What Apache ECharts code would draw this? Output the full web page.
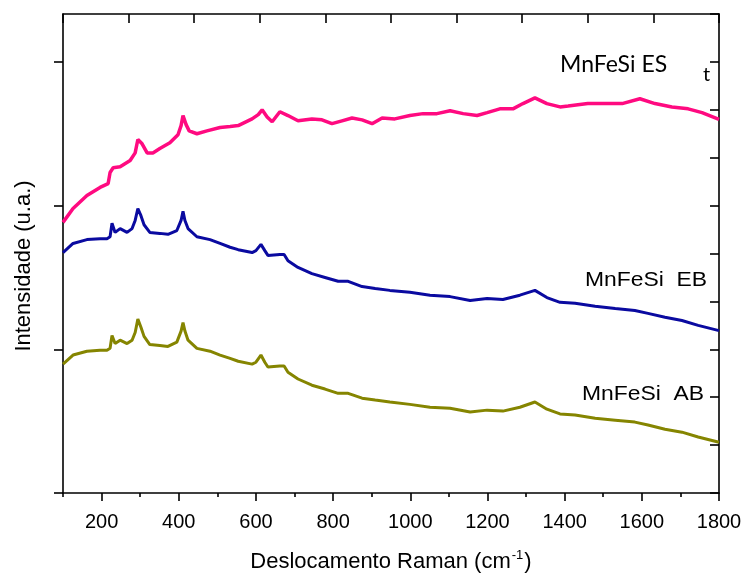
<!DOCTYPE html>
<html>
<head>
<meta charset="utf-8">
<script src="https://cdn.jsdelivr.net/npm/echarts@6/dist/echarts.min.js"></script>
<style>html,body{margin:0;padding:0;background:#fff;}#c{width:747px;height:573px;}</style>
</head>
<body>
<div id="c"></div>
<script>
// Raman shift (cm-1) and intensity (arb. units)
var esX = [100,126,162,196,217,222,230,248,274,287,294,305,318,333,351,377,398,406,411,419,427,447,473,507,533,554,590,606,616,629,642,662,683,709,745,771,797,823,849,875,901,927,960,999,1033,1069,1103,1137,1173,1199,1232,1266,1292,1323,1354,1388,1409,1460,1505,1549,1595,1634,1678,1720,1756,1800];
var esY = [5.65,5.94,6.21,6.38,6.46,6.69,6.79,6.81,6.94,7.10,7.38,7.29,7.10,7.10,7.19,7.31,7.48,7.67,7.88,7.69,7.56,7.50,7.56,7.63,7.65,7.67,7.81,7.90,8.00,7.85,7.75,7.96,7.88,7.77,7.81,7.79,7.71,7.77,7.83,7.79,7.71,7.83,7.81,7.88,7.92,7.92,7.98,7.92,7.88,7.94,8.02,8.02,8.13,8.25,8.13,8.06,8.08,8.13,8.13,8.13,8.23,8.13,8.06,8.02,7.94,7.80];

var ebX = [100,126,162,196,214,222,227,235,248,266,279,287,294,302,310,325,351,372,395,406,411,416,424,447,481,507,533,554,590,600,613,623,631,662,673,683,709,745,779,813,839,875,909,947,999,1051,1103,1155,1199,1240,1284,1323,1354,1388,1427,1479,1531,1582,1616,1660,1704,1746,1800];
var ebY = [5.02,5.21,5.29,5.31,5.31,5.35,5.63,5.44,5.52,5.44,5.52,5.69,5.94,5.79,5.60,5.44,5.42,5.40,5.48,5.69,5.88,5.69,5.52,5.35,5.29,5.21,5.13,5.08,5.02,5.06,5.19,5.06,4.96,4.98,4.98,4.85,4.71,4.58,4.50,4.42,4.42,4.31,4.27,4.23,4.19,4.13,4.10,4.02,4.06,4.04,4.13,4.23,4.08,3.98,3.96,3.90,3.85,3.81,3.75,3.67,3.60,3.50,3.39];
var abY = [2.69,2.88,2.96,2.98,2.98,3.02,3.29,3.12,3.19,3.12,3.19,3.35,3.63,3.46,3.27,3.10,3.08,3.06,3.15,3.38,3.56,3.38,3.19,3.02,2.96,2.88,2.81,2.75,2.69,2.73,2.88,2.73,2.63,2.65,2.65,2.52,2.38,2.25,2.17,2.08,2.08,1.98,1.94,1.90,1.85,1.79,1.77,1.69,1.73,1.71,1.79,1.90,1.75,1.65,1.63,1.56,1.52,1.48,1.42,1.33,1.27,1.17,1.06];

var xLabels = [200,400,600,800,1000,1200,1400,1600,1800];
var xMinorTicks = [100,300,500,700,900,1100,1300,1500,1700];
var yLeftTicks = [0,3,6,9];
var seriesNames = ['MnFeSi ES','MnFeSi  EB','MnFeSi  AB'];
var xTitle = 'Deslocamento Raman (cm';
var yTitle = 'Intensidade (u.a.)';

function pairs(xs, ys){ return xs.map(function(x,i){ return [x, ys[i]]; }); }

var chart = echarts.init(document.getElementById('c'), null, {renderer:'canvas'});
var axisLine = {show:true, lineStyle:{color:'#000', width:1.6}};
var font = 'Liberation Sans, Arial, sans-serif';

chart.setOption({
  animation:false,
  backgroundColor:'#fff',
  grid:{left:63, right:28, top:14, bottom:80, containLabel:false, outerBoundsMode:'none'},
  xAxis:[
    {type:'value', position:'bottom', min:100, max:1800,
     axisLine:axisLine, splitLine:{show:false},
     axisTick:{show:true, inside:false, length:8, customValues:xLabels, lineStyle:{color:'#000', width:1.6}},
     axisLabel:{customValues:xLabels, fontSize:20, fontFamily:font, color:'#000', margin:19,
                formatter:function(v){ return String(v); }},
     name:'{a|'+xTitle+'}{s|-1}{a|)}', nameLocation:'middle', nameGap:56,
     nameTextStyle:{rich:{a:{fontSize:22, fontFamily:font, color:'#000', lineHeight:26},
                          s:{fontSize:13, fontFamily:font, color:'#000', verticalAlign:'top', lineHeight:26, padding:[0,1,12,1]}}}},
    {type:'value', position:'bottom', min:100, max:1800,
     axisLine:{show:false}, splitLine:{show:false}, axisLabel:{show:false},
     axisTick:{show:true, inside:false, length:4, customValues:xMinorTicks, lineStyle:{color:'#000', width:1.6}}},
    {type:'value', position:'top', min:0, max:10, interval:1,
     axisLine:axisLine, splitLine:{show:false}, axisLabel:{show:false},
     axisTick:{show:true, inside:true, length:9, lineStyle:{color:'#000', width:1.6}}}
  ],
  yAxis:[
    {type:'value', position:'left', min:0, max:10,
     axisLine:axisLine, splitLine:{show:false}, axisLabel:{show:false},
     axisTick:{show:true, inside:false, length:9, customValues:yLeftTicks, lineStyle:{color:'#000', width:1.6}}},
    {type:'value', position:'right', min:0, max:10, interval:1,
     axisLine:axisLine, splitLine:{show:false}, axisLabel:{show:false},
     axisTick:{show:true, inside:true, length:9, lineStyle:{color:'#000', width:1.6}}}
  ],
  series:[
    {name:seriesNames[0], type:'line', xAxisIndex:0, yAxisIndex:0, data:pairs(esX, esY), showSymbol:false,
     lineStyle:{color:'#FF0A80', width:3.5}, z:3},
    {name:seriesNames[1], type:'line', xAxisIndex:0, yAxisIndex:0, data:pairs(ebX, ebY), showSymbol:false,
     lineStyle:{color:'#0A0AA0', width:3}, z:3},
    {name:seriesNames[2], type:'line', xAxisIndex:0, yAxisIndex:0, data:pairs(ebX, abY), showSymbol:false,
     lineStyle:{color:'#858500', width:3}, z:3}
  ],
  graphic:[
    {type:'text', x:24, y:266, rotation:Math.PI/2,
     style:{text:yTitle, font:'22px Liberation Sans, Arial, sans-serif', fill:'#000', align:'center', verticalAlign:'middle'}},
    {type:'text', x:560, y:65,
     style:{text:seriesNames[0], font:'23px Lato, sans-serif', fill:'#000', align:'left', verticalAlign:'middle'}},
    {type:'text', x:703, y:75,
     style:{text:'t', font:'20px Lato, sans-serif', fill:'#000', align:'left', verticalAlign:'middle'}},
    {type:'text', x:585, y:280, scaleX:1.09,
     style:{text:seriesNames[1], font:'21px Liberation Sans, Arial, sans-serif', fill:'#000', align:'left', verticalAlign:'middle'}},
    {type:'text', x:582, y:394, scaleX:1.09,
     style:{text:seriesNames[2], font:'21px Liberation Sans, Arial, sans-serif', fill:'#000', align:'left', verticalAlign:'middle'}}
  ]
});
</script>
</body>
</html>
